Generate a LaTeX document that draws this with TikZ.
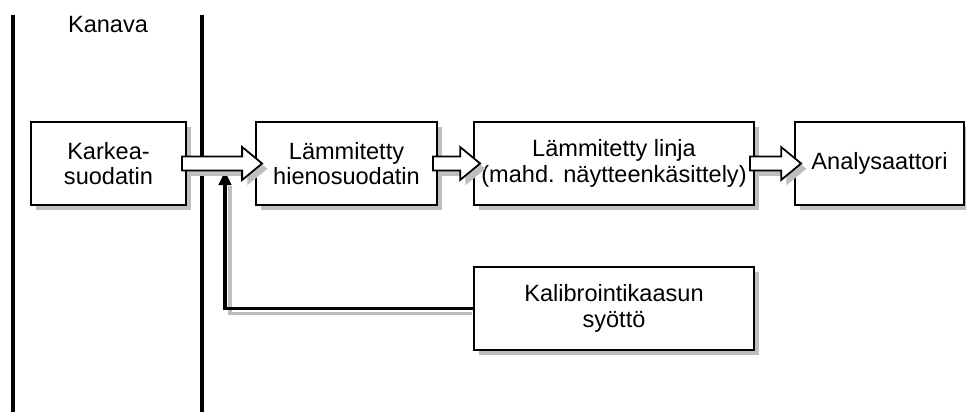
\documentclass[tikz,border=0pt]{standalone}
\usepackage{fontspec}
\setmainfont{Liberation Sans}
\definecolor{shadowGray}{RGB}{190,190,190}
\usepackage{tikz}
\usetikzlibrary{shapes,arrows,positioning,calc,shadows,arrows.meta}

% block arrow from the east side of one node into the west side of the next
\newcommand{\flow}[2]{%
  \draw[flowarrow] let \p1=($(#1.east)+(-0.1,0)$), \p2=($(#2.west)+(0.14,0)$) in
    (\x1,\y1+0.14cm) -- (\x2-0.4cm,\y1+0.14cm) -- (\x2-0.4cm,\y1+0.33cm) -- (\x2,\y1)
    -- (\x2-0.4cm,\y1-0.33cm) -- (\x2-0.4cm,\y1-0.14cm) -- (\x1,\y1-0.14cm) -- cycle;}

\begin{document}
\begin{tikzpicture}[
    font=\fontsize{13.4}{14.4}\selectfont,
    stage/.style={draw=black,line width=1pt,fill=white,align=center,
                  minimum height=1.66cm,inner sep=2pt,
                  drop shadow={shadow xshift=3pt,shadow yshift=-3pt,fill=shadowGray,opacity=1}},
    flowarrow/.style={draw=black,line width=1pt,fill=white,
                  drop shadow={shadow xshift=3pt,shadow yshift=-3pt,fill=shadowGray,opacity=1}},
    wall/.style={draw=black,line width=1.8pt},
    feed/.style={draw=black,line width=1.8pt,-{Triangle[length=8pt,width=7pt]}},
    feedshadow/.style={draw=shadowGray,line width=1.8pt}
  ]
  \useasboundingbox (0,0) rectangle (19.32,8.24);

  % channel walls
  \draw[wall] (0.26,7.94) -- (0.26,0);
  \draw[wall] (4.04,7.94) -- (4.04,0);
  \node (kanava) at (2.16,7.74) {Kanava};

  % sampling line
  \node[stage,minimum width=3.1cm]  (karkea) at (2.17,4.97)  {Karkea-\\suodatin};
  \node[stage,minimum width=3.62cm] (hieno)  at (6.93,4.97)  {Lämmitetty\\hienosuodatin};
  \node[stage,minimum width=5.6cm]  (linja)  at (12.28,4.97) {Lämmitetty linja\\(mahd. näytteenkäsittely)};
  \node[stage,minimum width=3.38cm] (analys) at (17.59,4.97) {Analysaattori};
  \node[stage,minimum width=5.6cm]  (kalib)  at (12.28,2.07) {Kalibrointikaasun\\syöttö};

  % calibration gas inlet
  \coordinate (inlet) at (4.5,4.82);
  \draw[feedshadow] ($(kalib.west)+(-0.02,-0.1)$) -| ($(inlet)+(0.1,-0.3)$);
  \draw[feed] (kalib.west) -| (inlet);

  \flow{karkea}{hieno}
  \flow{hieno}{linja}
  \flow{linja}{analys}
\end{tikzpicture}
\end{document}
